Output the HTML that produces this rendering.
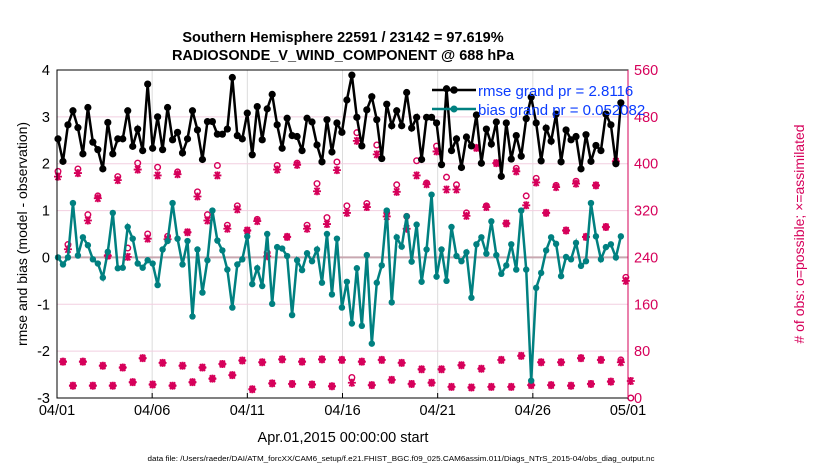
<!DOCTYPE html>
<html><head><meta charset="utf-8"><style>
body{margin:0;background:#fff;}
svg{display:block;font-family:"Liberation Sans",Arial,sans-serif;}
</style></head><body>
<svg id="chart" width="830" height="470" viewBox="0 0 830 470">
<g id="grid"></g>
<g id="series"></g>
<g id="axes"></g>
<text x="343" y="42" text-anchor="middle" font-size="14.5" font-weight="bold">Southern Hemisphere 22591 / 23142 = 97.619%</text>
<text x="343" y="60" text-anchor="middle" font-size="14.5" font-weight="bold">RADIOSONDE_V_WIND_COMPONENT @ 688 hPa</text>
<text transform="translate(27,234) rotate(-90)" text-anchor="middle" font-size="14">rmse and bias (model - observation)</text>
<text transform="translate(804,234) rotate(-90)" text-anchor="middle" font-size="14" fill="#d6005a"># of obs: o=possible; ×=assimilated</text>
<text x="343" y="442" text-anchor="middle" font-size="14.5">Apr.01,2015 00:00:00 start</text>
<text x="401" y="461" text-anchor="middle" font-size="7.6" textLength="507" lengthAdjust="spacingAndGlyphs">data file: /Users/raeder/DAI/ATM_forcXX/CAM6_setup/f.e21.FHIST_BGC.f09_025.CAM6assim.011/Diags_NTrS_2015-04/obs_diag_output.nc</text>
<g>
<line x1="432" y1="90" x2="476" y2="90" stroke="#000" stroke-width="2.5"/>
<circle cx="454" cy="90" r="3.8" fill="#000"/>
<text x="478" y="96" font-size="15" fill="#0a3cff">rmse grand pr = 2.8116</text>
<line x1="432" y1="109" x2="476" y2="109" stroke="#008080" stroke-width="2.5"/>
<circle cx="454" cy="109" r="3.5" fill="#008080"/>
<text x="478" y="115" font-size="15" fill="#0a3cff">bias grand pr = 0.052082</text>
</g>
</svg>
<script>
const rmse=[2.53,2.05,2.83,3.13,2.77,2.21,3.2,2.46,2.3,1.89,2.88,2.21,2.53,2.53,3.13,2.37,2.74,2.28,3.7,2.33,3.0,2.3,3.2,2.51,2.67,2.23,2.53,3.13,2.72,2.09,2.9,2.9,2.63,2.63,2.74,3.84,2.6,2.53,3.08,2.19,3.22,2.51,3.17,3.48,2.83,2.33,2.97,2.6,2.58,2.28,2.97,2.89,2.4,2.04,2.94,2.25,2.87,2.67,3.36,3.89,2.99,2.38,3.15,3.43,2.94,2.11,3.27,2.81,3.13,2.81,3.52,2.76,2.99,2.09,2.99,2.99,2.87,1.98,3.6,2.28,2.53,1.92,2.57,2.38,3.04,2.01,2.74,2.42,2.89,1.73,2.87,2.1,2.6,2.16,2.96,3.42,2.87,2.06,2.76,2.48,3.06,2.04,2.72,2.51,2.58,1.89,2.62,2.05,2.39,2.28,3.06,2.83,2.0,3.3];
const bias=[0,-0.15,0,1.16,0.04,0.43,0.26,-0.04,-0.13,-0.43,0.12,0.95,-0.23,-0.22,0.65,0.4,-0.13,-0.22,-0.06,-0.13,-0.59,0.17,0.35,1.16,0.4,-0.15,0.35,-1.26,0.17,-0.75,-0.06,1.0,0.36,0.15,-0.26,-1.07,-0.15,-0.04,0.45,-0.57,-0.23,-0.61,0.5,-0.99,0.22,0.19,0.03,-1.23,-0.06,-0.27,0.09,-0.08,0.17,-0.54,0.5,-0.79,0.4,-1.07,-0.52,-1.41,-0.23,-1.46,0.05,-1.84,-0.54,-0.17,1.0,-0.96,0.43,0.23,0.88,-0.09,0.7,-0.52,0.17,1.34,-0.41,0.17,-0.5,0.65,0.03,-0.08,0.11,-0.86,0.28,0.43,0.08,0.77,0.05,-0.35,-0.17,0.28,-0.26,1.0,-0.26,-2.63,-0.65,-0.33,0.15,0.43,0.29,-0.4,0.01,-0.04,0.31,-0.18,-0.08,1.16,0.45,-0.04,0.22,0.28,0.0,0.45];
const nAssim=[378,62,254,21,384,62,303,21,341,55,243,21,372,52,241,27,390,68,272,23,380,60,271,21,382,55,283,27,344,52,303,33,380,58,289,39,322,64,286,15,302,61,242,25,390,66,275,24,398,62,289,23,353,66,297,20,389,65,316,26,439,62,326,22,416,65,310,31,352,60,289,24,380,49,365,26,421,49,356,19,356,56,311,18,427,50,326,19,401,65,298,19,387,72,329,22,368,61,316,22,360,61,286,21,366,68,275,24,363,65,292,28,404,61,200,29];
const nPoss=[387,62,262,21,391,62,313,21,345,55,243,21,378,52,256,27,401,68,280,23,394,60,276,21,386,55,283,27,352,52,313,33,397,58,295,39,328,64,286,15,305,61,248,25,397,66,275,24,401,62,295,23,366,66,308,20,403,65,328,35,453,62,332,22,432,65,316,31,364,60,310,24,405,49,367,26,430,49,377,19,364,56,316,18,427,50,328,19,401,65,298,19,392,72,345,22,375,61,316,22,363,61,286,21,370,68,275,24,363,65,292,28,404,65,206,0];
const xTickLabels=["04/01","04/06","04/11","04/16","04/21","04/26","05/01"];
const xTickDays=[0,5,10,15,20,25,30];
const yTicks=[-3,-2,-1,0,1,2,3,4];
const rTicks=[0,80,160,240,320,400,480,560];
const DT=0.2617;
const X0=57,X1=628,Y0=398,Y1=70;
const xs=d=>X0+1+(d/30)*(X1-X0);
const xt=d=>X0+(d/30)*(X1-X0);
const ys=v=>Y0-(v+3)/7*(Y0-Y1);
const yr=c=>Y0-c/560*(Y0-Y1);
const NS="http://www.w3.org/2000/svg";
function mk(p,t,a){const e=document.createElementNS(NS,t);for(const k in a)e.setAttribute(k,a[k]);p.appendChild(e);return e;}
const grid=document.getElementById('grid'),ser=document.getElementById('series'),ax=document.getElementById('axes');
xTickDays.forEach((d,i)=>{
 const l=mk(grid,'line',{x1:xt(d),x2:xt(d),y1:Y1,y2:Y0,stroke:'#dcdcdc','stroke-width':1});
 
 
 const t=mk(ax,'text',{x:xt(d),y:Y0+17,'text-anchor':'middle','font-size':14.5});
 t.textContent=xTickLabels[i];
 
 
 const tk=mk(ax,'line',{x1:xt(d),x2:xt(d),y1:Y0,y2:Y0-5,stroke:'#000'});
 
 
});
yTicks.forEach(v=>{
 if(v>-3&&v<4&&v!==0){const l=mk(grid,'line',{x1:X0,x2:X1,y1:ys(v),y2:ys(v),stroke:'#f2cfe0','stroke-width':1});
 
 }
 const t=mk(ax,'text',{x:X0-7,y:ys(v)+5,'text-anchor':'end','font-size':14.5});
 t.textContent=v;
 
 
});
rTicks.forEach(c=>{
 const t=mk(ax,'text',{x:X1+6,y:yr(c)+5,'font-size':14.5,fill:'#d6005a'});
 t.textContent=c;
 
 
});
const zl=mk(grid,'line',{x1:X0,x2:X1,y1:ys(0),y2:ys(0),stroke:'#c8a8b0','stroke-width':2});


const box=mk(ax,'rect',{x:X0,y:Y1,width:X1-X0,height:Y0-Y1,fill:'none',stroke:'#000','stroke-width':1});


const rax=mk(ax,'line',{x1:X1,x2:X1,y1:Y1,y2:Y0,stroke:'#d6005a','stroke-width':1});


nPoss.forEach((c,i)=>{
 const o=mk(ser,'circle',{cx:xs(i*DT),cy:yr(c),r:2.8,fill:'none',stroke:'#d6005a','stroke-width':1.4});
 
 
});
nAssim.forEach((c,i)=>{
 const x=xs(i*DT),y=yr(c);
 const g=mk(ser,'path',{d:`M${x-4} ${y}H${x+4}M${x-2.5} ${y-3.5}L${x+2.5} ${y+3.5}M${x-2.5} ${y+3.5}L${x+2.5} ${y-3.5}M${x} ${y-4}V${y+4}`,stroke:'#d6005a','stroke-width':1.8});
 
 
});
function line(arr,col,name,r){
 const p=mk(ser,'polyline',{points:arr.map((v,i)=>xs(i*DT)+','+ys(v)).join(' '),fill:'none',stroke:col,'stroke-width':2.5});
 
 
 arr.forEach((v,i)=>{const c=mk(ser,'circle',{cx:xs(i*DT),cy:ys(v),r:r,fill:col});
 
 });
}
line(bias,'#008080','bias',3.2);
line(rmse,'#000','rmse',3.6);
</script>
</body></html>
